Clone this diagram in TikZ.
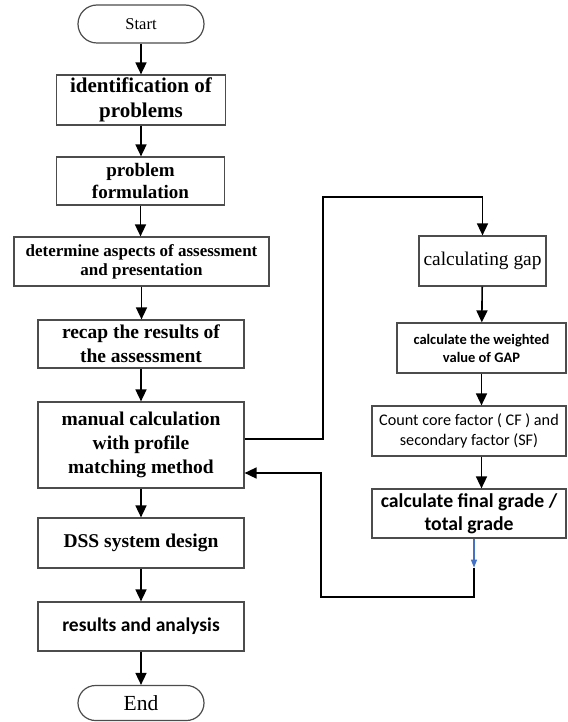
\documentclass[tikz,border=0pt]{standalone}
\usepackage{fontspec}
\setmainfont{Liberation Serif}
\newfontfamily\carlito{Carlito}
\usetikzlibrary{arrows.meta, positioning, shapes.misc, calc}

\begin{document}
\begin{tikzpicture}[x=1pt, y=1pt,
    procbox/.style={draw=black!70, line width=1.2pt, align=center, inner sep=0pt,
                    font=\bfseries\fontsize{19.5}{24}\selectfont},
    termbox/.style={draw=black!70, line width=1.2pt, rounded rectangle, inner sep=0pt,
                    minimum width=126pt},
    flow/.style={line width=1.6pt, -{Triangle[length=12pt, width=11pt]}},
    blueflow/.style={line width=1.2pt, draw={rgb,255:red,68;green,114;blue,196},
                     -{Triangle[length=8pt, width=6pt]}}]
    \useasboundingbox (0,0) rectangle (567,-722);

    %--- main column ---
    \node[termbox, minimum height=38pt, font=\fontsize{16.5}{20}\selectfont] (start) at (141,-24) {Start};
    \node[procbox, minimum width=169pt, minimum height=50pt,
          font=\bfseries\fontsize{21}{25}\selectfont] (ident) at (141,-100) {identification of\\problems};
    \node[procbox, minimum width=168pt, minimum height=48pt,
          font=\bfseries\fontsize{19}{22}\selectfont] (formul) at (140.5,-181) {problem\\formulation};
    \node[procbox, minimum width=255pt, minimum height=49pt,
          font=\bfseries\fontsize{17}{19}\selectfont] (aspect) at (141.5,-261.5) {determine aspects of assessment\\and presentation};
    \node[procbox, minimum width=206pt, minimum height=48pt] (recap) at (141,-344) {recap the results of\\the assessment};
    \node[procbox, minimum width=206pt, minimum height=86pt] (manual) at (141,-445) {manual calculation\\with profile\\matching method};
    \node[procbox, minimum width=206pt, minimum height=50pt] (dss) at (141,-543) {DSS system design};
    \node[procbox, minimum width=206pt, minimum height=49pt,
          font=\carlito\bfseries\fontsize{19.5}{24}\selectfont] (result) at (141,-626.5) {results and analysis};
    \node[termbox, minimum height=35pt, font=\fontsize{21.5}{25}\selectfont] (end) at (141,-703) {End};

    \foreach \a/\b in {start/ident, ident/formul, formul/aspect, aspect/recap,
                       recap/manual, manual/dss, dss/result, result/end}
        \draw[flow] (\a.south) -- (\a.south |- \b.north);

    %--- profile matching column ---
    \node[procbox, minimum width=127pt, minimum height=50pt,
          font=\fontsize{19.4}{23}\selectfont] (gap) at (482.5,-261) {calculating gap};
    \node[procbox, minimum width=169pt, minimum height=50pt,
          font=\carlito\bfseries\fontsize{14.5}{18}\selectfont] (weight) at (481.5,-348) {calculate the weighted\\value of GAP};
    \node[procbox, minimum width=194pt, minimum height=50pt,
          font=\carlito\fontsize{16.2}{20}\selectfont] (count) at (469,-431) {Count core factor ( CF ) and\\secondary factor (SF)};
    \node[procbox, minimum width=194pt, minimum height=49pt,
          font=\carlito\bfseries\fontsize{19.7}{23}\selectfont] (final) at (469,-513.5) {calculate final grade /\\total grade};

    \draw[flow] (gap) -- (weight);
    \draw[flow] (weight.south) -- (weight.south |- count.north);
    \draw[flow] (weight.south |- count.south) -- (weight.south |- final.north);

    % loop out of the manual calculation and back into it
    \coordinate (outTop) at (323,-197);
    \coordinate (retLow) at (321,-597);
    \coordinate (blueTip) at ($(final.south)+(5,-29)$);
    \draw[flow] ($(manual.east)+(0,6)$) -| (outTop) -| (gap.north);
    \draw[blueflow] (final.south -| blueTip) -- (blueTip);
    \draw[flow] (blueTip) |- (retLow) |- ($(manual.east)+(0,-28)$);
\end{tikzpicture}
\end{document}
